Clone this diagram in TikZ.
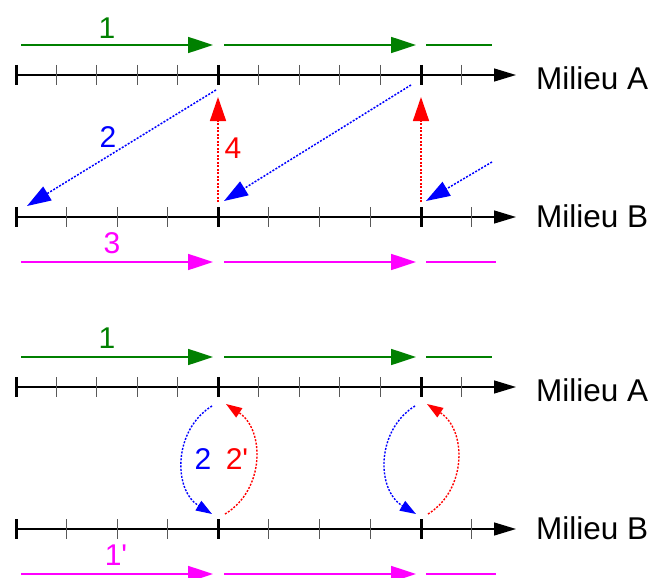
\documentclass[tikz,border=0pt]{standalone}
\usepackage{fontspec}
\setmainfont{Liberation Sans}
\usetikzlibrary{arrows.meta}
\definecolor{dgreen}{RGB}{0,128,0}
\definecolor{mag}{RGB}{255,0,255}
\begin{document}
\begin{tikzpicture}[x=1pt,y=-1pt,
 axisline/.style={line width=1.3pt,-{Triangle[length=22pt,width=13pt]}},
 minortick/.style={line width=1pt,black!65},
 majortick/.style={line width=3pt,black},
 flow/.style={line width=1.7pt,-{Triangle[length=25pt,width=16pt]}},
 flowend/.style={line width=1.7pt},
 sig/.style={line width=1.5pt,dash pattern=on 2pt off 1.5pt,-{Triangle[length=24pt,width=16pt]}},
 sigc/.style={line width=1.4pt,dash pattern=on 2pt off 1.5pt,-{Triangle[length=16pt,width=11pt]}},
 lab/.style={font=\fontsize{30}{30}\selectfont,inner sep=0pt},
 mil/.style={font=\fontsize{31.5}{31.5}\selectfont,inner sep=0pt,anchor=west}
]
\useasboundingbox (0,0) rectangle (651,578);
\foreach \p/\o in {1/0,2/312}{
  % axes
  \coordinate (A\p s) at (16,75+\o);
  \coordinate (A\p e) at (516,75+\o);
  \coordinate (B\p s) at (16,217+\o);
  \coordinate (B\p e) at (516,217+\o);
  \draw[axisline] (A\p s) -- (A\p e);
  \draw[axisline] (B\p s) -- (B\p e);
  \node[mil] (LA\p) at (536,78+\o) {Milieu A};
  \node[mil] (LB\p) at (536,216+\o) {Milieu B};
  % ticks
  \foreach \x in {56.4,96.8,137.2,177.6,258.6,299.2,339.8,380.4,461.6}
    \draw[minortick] (\x,65+\o) -- (\x,85+\o);
  \foreach \x in {66.5,117,167.5,268.75,319.5,370.25,471.75}
    \draw[minortick] (\x,207+\o) -- (\x,227+\o);
  \foreach \x in {16,218,421}{
    \draw[majortick] (\x,65+\o) -- (\x,85+\o);
    \draw[majortick] (\x,207+\o) -- (\x,227+\o);
  }
}
% green and magenta flows
\foreach \p/\o in {1/0,2/312}{
  \coordinate (g\p a) at (21,45+\o);  \coordinate (g\p b) at (213,45+\o);
  \coordinate (g\p c) at (224,45+\o); \coordinate (g\p d) at (416,45+\o);
  \coordinate (g\p e) at (426,45+\o); \coordinate (g\p f) at (492,45+\o);
  \draw[flow,dgreen] (g\p a) -- (g\p b);
  \draw[flow,dgreen] (g\p c) -- (g\p d);
  \draw[flowend,dgreen] (g\p e) -- (g\p f);
  \coordinate (m\p a) at (21,262+\o);  \coordinate (m\p b) at (213,262+\o);
  \coordinate (m\p c) at (224,262+\o); \coordinate (m\p d) at (416,262+\o);
  \coordinate (m\p e) at (426,262+\o); \coordinate (m\p f) at (496,262+\o);
  \draw[flow,mag] (m\p a) -- (m\p b);
  \draw[flow,mag] (m\p c) -- (m\p d);
  \draw[flowend,mag] (m\p e) -- (m\p f);
}
\node[lab,dgreen] (l1) at (107,28) {1};
\node[lab,mag] (l3) at (112,243) {3};
\node[lab,dgreen] (l1b) at (107,338) {1};
\node[lab,mag] (l1p) at (116,555) {1\textquotesingle};
% top panel signals
\coordinate (b1s) at (216,90);  \coordinate (b1e) at (27,206);
\coordinate (b2s) at (411,85);  \coordinate (b2e) at (224,201);
\coordinate (b3s) at (492,162); \coordinate (b3e) at (426,201);
\draw[sig,blue] (b1s) -- (b1e);
\draw[sig,blue] (b2s) -- (b2e);
\draw[sig,blue] (b3s) -- (b3e);
\coordinate (r1s) at (218,202); \coordinate (r1e) at (218,97);
\coordinate (r2s) at (421,202); \coordinate (r2e) at (421,97);
\draw[sig,red] (r1s) -- (r1e);
\draw[sig,red] (r2s) -- (r2e);
\node[lab,blue] (l2) at (108,137) {2};
\node[lab,red] (l4) at (233,148) {4};
% bottom panel signals
\coordinate (c1s) at (212,406); \coordinate (c1e) at (212,514);
\coordinate (d1s) at (225,514); \coordinate (d1e) at (226,404);
\coordinate (c2s) at (415,406); \coordinate (c2e) at (416,514);
\coordinate (d2s) at (428,514); \coordinate (d2e) at (427,404);
\draw[sigc,blue] (c1s) .. controls (173,430) and (173,490) .. (c1e);
\draw[sigc,red] (d1s) .. controls (265,490) and (265,430) .. (d1e);
\draw[sigc,blue] (c2s) .. controls (376,430) and (376,490) .. (c2e);
\draw[sigc,red] (d2s) .. controls (467,490) and (467,430) .. (d2e);
\node[lab,blue] (l2b) at (203,459) {2};
\node[lab,red] (l2p) at (237,459) {2\textquotesingle};
\end{tikzpicture}
\end{document}
